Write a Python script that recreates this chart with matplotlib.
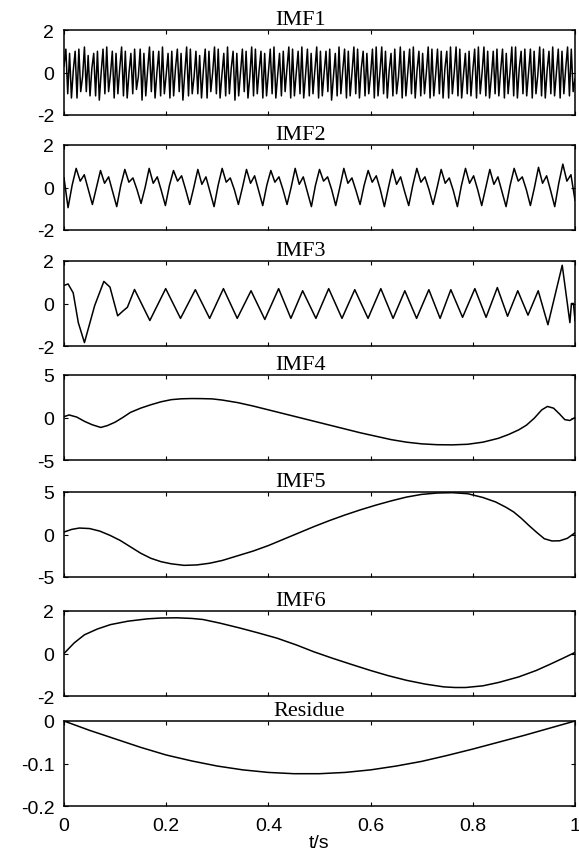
import numpy as np
import matplotlib.pyplot as plt

plt.rcParams['axes.unicode_minus'] = False

# IMF1: dense oscillation; each cycle read as a tight up/down bar then a gap
imf1 = [0.3,
    1.1, -1.0, 0.9, -1.2, 0.1, 1.0, -1.2, 1.1, -0.9, -0.2, 1.2, -0.9, 0.8, -1.1, 0.2, 0.9, -1.1, 1.0, -1.3, 0.0, 1.1, -1.0, 1.2, -0.9, -0.1,
    1.0, -1.2, 0.9, -1.0, 0.2, 1.2, -1.1, 1.0, -1.2, 0.0, 0.9, -1.0, 1.1, -0.8, -0.2, 1.1, -1.3, 0.9, -1.1, 0.1, 1.2, -0.9, 1.0, -1.2, 0.0,
    1.0, -1.1, 1.2, -1.0, -0.1, 0.9, -1.2, 1.0, -1.1, 0.2, 1.1, -0.9, 0.9, -1.3, 0.0, 1.2, -1.1, 1.1, -1.0, -0.2, 1.0, -1.0, 0.8, -1.2, 0.1,
    1.1, -1.2, 1.0, -0.9, 0.0, 1.2, -1.0, 1.1, -1.2, -0.1, 0.9, -1.1, 1.2, -1.0, 0.2, 1.0, -1.3, 0.9, -1.1, 0.0, 1.1, -0.9, 1.0, -1.2, -0.2,
    1.2, -1.1, 1.1, -1.0, 0.1, 1.0, -1.2, 0.9, -1.1, 0.0, 1.1, -1.0, 1.2, -1.2, -0.1, 0.9, -1.1, 1.0, -0.9, 0.2, 1.2, -1.2, 1.1, -1.1, 0.0,
    1.0, -1.0, 1.2, -1.2, -0.1, 1.1, -1.1, 0.9, -1.0, 0.1, 1.2, -1.2, 1.0, -1.1, 0.0, 1.0, -0.9, 1.1, -1.3, -0.2, 0.9, -1.1, 1.2, -1.0, 0.1,
    1.1, -1.2, 1.0, -1.1, 0.0, 1.2, -1.0, 1.1, -1.2, 0.2, 1.0, -1.1, 0.9, -1.0, -0.1, 1.1, -1.2, 1.2, -1.1, 0.0, 1.2, -1.0, 1.0, -1.2, 0.1,
    0.9, -1.1, 1.1, -1.0, -0.2, 1.2, -1.2, 1.0, -1.1, 0.0, 1.1, -1.0, 1.2, -1.2, 0.1, 1.0, -1.1, 0.9, -1.0, 0.0, 1.2, -1.2, 1.1, -1.1, -0.1,
    1.1, -1.0, 1.0, -1.2, 0.2, 1.0, -1.2, 1.2, -1.0, 0.0, 1.2, -1.1, 1.1, -1.2, -0.1, 0.9, -1.0, 1.0, -1.1, 0.1, 1.1, -1.2, 1.2, -1.0, 0.0,
    1.2, -1.1, 1.0, -1.2, -0.2, 1.0, -1.0, 1.1, -1.1, 0.1, 1.1, -1.2, 0.9, -1.0, 0.0, 1.2, -1.1, 1.2, -1.2, 0.2, 1.0, -1.0, 1.1, -1.1, 0.0,
    1.1, -1.2, 1.0, -1.0, -0.1, 1.2, -1.1, 1.1, -1.2, 0.1, 1.0, -1.0, 1.2, -1.1, 0.0, 1.1, -1.2, 1.0, -1.0, 0.2, 1.2, -1.1, 1.1, -0.9, -0.3]

# IMF2: trough / rise / peak / dip / shoulder / fall per cycle
imf2 = [0.45,
    -0.95, 0.1, 0.9, 0.3, 0.6, -0.1, -0.8, 0.0, 0.8, 0.2, 0.5, -0.2,
    -0.9, 0.1, 0.85, 0.25, 0.45, -0.1, -0.75, 0.0, 0.9, 0.2, 0.5, -0.15,
    -0.85, 0.1, 0.8, 0.3, 0.55, -0.1, -0.8, 0.0, 0.85, 0.15, 0.5, -0.2,
    -0.9, 0.1, 0.9, 0.25, 0.45, -0.1, -0.8, 0.0, 0.85, 0.2, 0.55, -0.15,
    -0.85, 0.1, 0.8, 0.25, 0.5, -0.1, -0.8, 0.0, 0.9, 0.15, 0.5, -0.2,
    -0.9, 0.1, 0.85, 0.3, 0.5, -0.1, -0.85, 0.0, 0.9, 0.2, 0.45, -0.15,
    -0.8, 0.1, 0.8, 0.25, 0.55, -0.1, -0.9, 0.0, 0.85, 0.15, 0.5, -0.2,
    -0.85, 0.1, 0.9, 0.25, 0.5, -0.1, -0.8, 0.0, 0.85, 0.2, 0.45, -0.15,
    -0.9, 0.1, 0.9, 0.2, 0.55, -0.1, -0.85, 0.0, 0.85, 0.15, 0.5, -0.2,
    -0.9, 0.1, 0.9, 0.3, 0.5, -0.1, -0.85, 0.0, 0.95, 0.2, 0.55, -0.15,
    -0.9, 0.2, 1.1, 0.3, 0.6, -0.6]

imf3_t = [0.0, 0.008, 0.018, 0.028, 0.04, 0.06, 0.078, 0.09, 0.105, 0.116, 0.124,
          0.138, 0.168, 0.199, 0.228, 0.257, 0.285, 0.312, 0.339, 0.366, 0.393,
          0.42, 0.444, 0.467, 0.493, 0.518, 0.544, 0.569, 0.595, 0.62, 0.644,
          0.667, 0.69, 0.714, 0.736, 0.757, 0.78, 0.804, 0.826, 0.848, 0.868,
          0.888, 0.908, 0.928, 0.947, 0.975, 0.99, 0.993, 0.997, 1.0]
imf3 = [0.85, 0.92, 0.5, -0.9, -1.84, -0.1, 1.04, 0.77, -0.58, -0.34, -0.18,
        0.66, -0.8, 0.7, -0.7, 0.65, -0.7, 0.7, -0.7, 0.6, -0.75,
        0.7, -0.7, 0.6, -0.7, 0.7, -0.7, 0.65, -0.7, 0.7, -0.7,
        0.6, -0.7, 0.65, -0.7, 0.65, -0.65, 0.7, -0.65, 0.75, -0.6,
        0.6, -0.55, 0.6, -1.0, 1.8, -0.9, 0.0, 0.0, -0.8]

imf4_t = [0.0, 0.01, 0.025, 0.04, 0.055, 0.072, 0.085, 0.1, 0.115, 0.13,
          0.15, 0.17, 0.19, 0.21, 0.23, 0.25, 0.27, 0.29, 0.31, 0.34,
          0.37, 0.40, 0.43, 0.46, 0.49, 0.52, 0.55, 0.58, 0.61, 0.64,
          0.67, 0.70, 0.73, 0.76, 0.79, 0.82, 0.85, 0.87, 0.89, 0.905,
          0.92, 0.935, 0.946, 0.958, 0.97, 0.98, 0.99, 1.0]
imf4 = [0.1, 0.3, 0.05, -0.45, -0.85, -1.17, -0.95, -0.55, 0.0, 0.6,
        1.1, 1.5, 1.85, 2.1, 2.2, 2.23, 2.22, 2.19, 2.05, 1.75,
        1.35, 0.9, 0.45, 0.0, -0.45, -0.9, -1.35, -1.8, -2.2, -2.6,
        -2.9, -3.1, -3.2, -3.22, -3.15, -2.9, -2.45, -2.0, -1.45, -0.9,
        -0.1, 0.9, 1.3, 1.1, 0.4, -0.25, -0.35, 0.0]

imf5_t = [0.0, 0.015, 0.03, 0.05, 0.07, 0.09, 0.11, 0.13, 0.15, 0.17,
          0.19, 0.21, 0.235, 0.26, 0.285, 0.31, 0.34, 0.37, 0.40, 0.43,
          0.46, 0.49, 0.52, 0.55, 0.58, 0.61, 0.64, 0.67, 0.70, 0.73,
          0.76, 0.79, 0.82, 0.845, 0.865, 0.88, 0.895, 0.91, 0.925, 0.94,
          0.955, 0.97, 0.985, 1.0]
imf5 = [0.29, 0.6, 0.76, 0.7, 0.4, -0.1, -0.7, -1.45, -2.2, -2.8,
        -3.2, -3.45, -3.63, -3.58, -3.38, -3.05, -2.5, -1.95, -1.3, -0.55,
        0.2, 0.95, 1.65, 2.3, 2.9, 3.45, 3.95, 4.4, 4.72, 4.88,
        4.92, 4.8, 4.35, 3.82, 3.2, 2.65, 1.9, 1.05, 0.25, -0.5,
        -0.76, -0.74, -0.45, 0.2]

imf6_t = [0.0, 0.02, 0.04, 0.065, 0.091, 0.125, 0.163, 0.19, 0.221, 0.25,
          0.272, 0.305, 0.344, 0.38, 0.417, 0.455, 0.489, 0.525, 0.562, 0.6,
          0.634, 0.67, 0.707, 0.743, 0.765, 0.786, 0.82, 0.851, 0.89, 0.924,
          0.95, 0.975, 1.0]
imf6 = [0.0, 0.5, 0.88, 1.15, 1.36, 1.52, 1.63, 1.67, 1.68, 1.65,
        1.6, 1.43, 1.2, 0.97, 0.72, 0.4, 0.08, -0.22, -0.51, -0.8,
        -1.04, -1.26, -1.44, -1.57, -1.6, -1.6, -1.52, -1.36, -1.1, -0.8,
        -0.52, -0.24, 0.05]

res_t = [0.0, 0.05, 0.1, 0.15, 0.2, 0.25, 0.3, 0.35, 0.4, 0.45, 0.5,
         0.55, 0.6, 0.65, 0.7, 0.75, 0.8, 0.85, 0.9, 0.95, 1.0]
res = [0.0, -0.022, -0.042, -0.062, -0.080, -0.094, -0.106, -0.115, -0.121, -0.124, -0.124,
       -0.121, -0.115, -0.106, -0.095, -0.081, -0.066, -0.050, -0.034, -0.017, 0.0]

series = [
    (np.linspace(0, 1, len(imf1)), imf1),
    (np.linspace(0, 1, len(imf2)), imf2),
    (imf3_t, imf3),
    (imf4_t, imf4),
    (imf5_t, imf5),
    (imf6_t, imf6),
    (res_t, res),
]
titles = ['IMF1', 'IMF2', 'IMF3', 'IMF4', 'IMF5', 'IMF6', 'Residue']
ylims = [(-2, 2), (-2, 2), (-2, 2), (-5, 5), (-5, 5), (-2, 2), (-0.2, 0)]
yticks = [[-2, 0, 2]] * 3 + [[-5, 0, 5]] * 2 + [[-2, 0, 2], [-0.2, -0.1, 0]]
yticklabels = [['-2', '0', '2']] * 3 + [['-5', '0', '5']] * 2 + \
    [['-2', '0', '2'], ['-0.2', '-0.1', '0']]
xticks = [0, 0.2, 0.4, 0.6, 0.8, 1]
xticklabels = ['0', '0.2', '0.4', '0.6', '0.8', '1']

W, H = 579, 854
fig = plt.figure(figsize=(W / 100, H / 100), dpi=100)

# axes geometry in pixels
left, width, height = 64, 511, 85
tops = [31, 146, 262, 376, 493, 612, 722]

for i, (t, y) in enumerate(series):
    ax = fig.add_axes([left / W, 1 - (tops[i] + height) / H, width / W, height / H])
    ax.plot(t, y, color='black', lw=1.1)
    ax.set_xlim(0, 1)
    ax.set_ylim(*ylims[i])
    ax.set_xticks(xticks)
    ax.set_yticks(yticks[i])
    ax.set_yticklabels(yticklabels[i], family='Liberation Sans', fontsize=14)
    if i == len(series) - 1:
        ax.set_xticklabels(xticklabels, family='Liberation Sans', fontsize=14)
        ax.set_xlabel('t/s', family='Liberation Sans', fontsize=14, labelpad=0)
    else:
        ax.set_xticklabels([])
    ax.tick_params(direction='in', top=True, right=True, length=3, width=0.8)
    ax.tick_params(axis='y', pad=7)
    ax.tick_params(axis='x', pad=8)
    for s in ax.spines.values():
        s.set_linewidth(1.1)
    tx = 0.48 if titles[i] == 'Residue' else 0.462
    ax.set_title(titles[i], family='Liberation Serif', fontsize=16, x=tx, pad=4)

fig.savefig('out.png', dpi=100)
